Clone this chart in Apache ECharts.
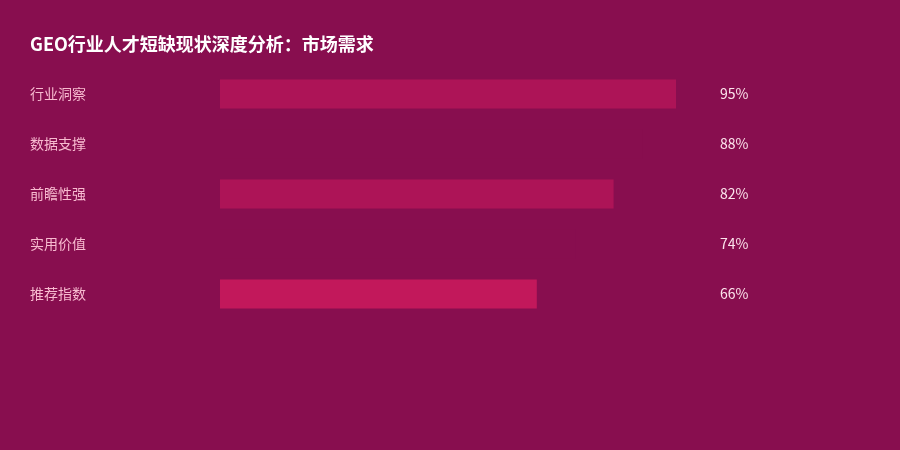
<!DOCTYPE html>
<html lang="zh">
<head>
    <meta charset="UTF-8">
    <title>GEO行业人才短缺现状深度分析：市场需求</title>
    <script src="https://cdn.jsdelivr.net/npm/echarts@6/dist/echarts.min.js"></script>
    <style>
        html, body { margin: 0; padding: 0; background: #880E4F; }
    </style>
</head>
<body>
<div id="main" style="width: 900px;height: 450px;"></div>

<script type="text/javascript">
    // 数据
    var categories = ['行业洞察', '数据支撑', '前瞻性强', '实用价值', '推荐指数'];
    var values = [95, 88, 82, 74, 66];
    var barColors = ['#AD1457', '#880E4F', '#AD1457', '#880E4F', '#C2185B'];

    var myChart = echarts.init(document.getElementById('main'));

    var option = {
        backgroundColor: '#880E4F',
        textStyle: {fontFamily: '"Noto Sans CJK SC", "Noto Sans", sans-serif'},
        title: {
            text: 'GEO行业人才短缺现状深度分析：市场需求',
            left: 25,
            top: 30,
            textStyle: {color: '#ffffff', fontSize: 18, fontWeight: 'bold'}
        },
        grid: {left: 220, width: 480, top: 69, height: 250, containLabel: false},
        xAxis: {
            type: 'value',
            min: 0,
            max: 100,
            show: false
        },
        yAxis: [
            { //左侧类目
                type: 'category',
                inverse: true,
                data: categories,
                axisLine: {show: false},
                axisTick: {show: false},
                axisLabel: {
                    color: '#F8BBD0',
                    fontSize: 14,
                    align: 'left',
                    margin: 190
                }
            },
            { //右侧百分比
                type: 'category',
                inverse: true,
                position: 'right',
                data: values.map(function (v) { return v + '%'; }),
                axisLine: {show: false},
                axisTick: {show: false},
                axisLabel: {
                    color: '#FCE4EC',
                    fontSize: 14,
                    align: 'left',
                    margin: 20
                }
            }
        ],
        series: [
            {
                type: 'bar',
                barWidth: 29,
                data: values.map(function (v, i) {
                    return {value: v, itemStyle: {color: barColors[i]}};
                }),
                silent: true
            }
        ]
    };

    myChart.setOption(option);
</script>
</body>
</html>
